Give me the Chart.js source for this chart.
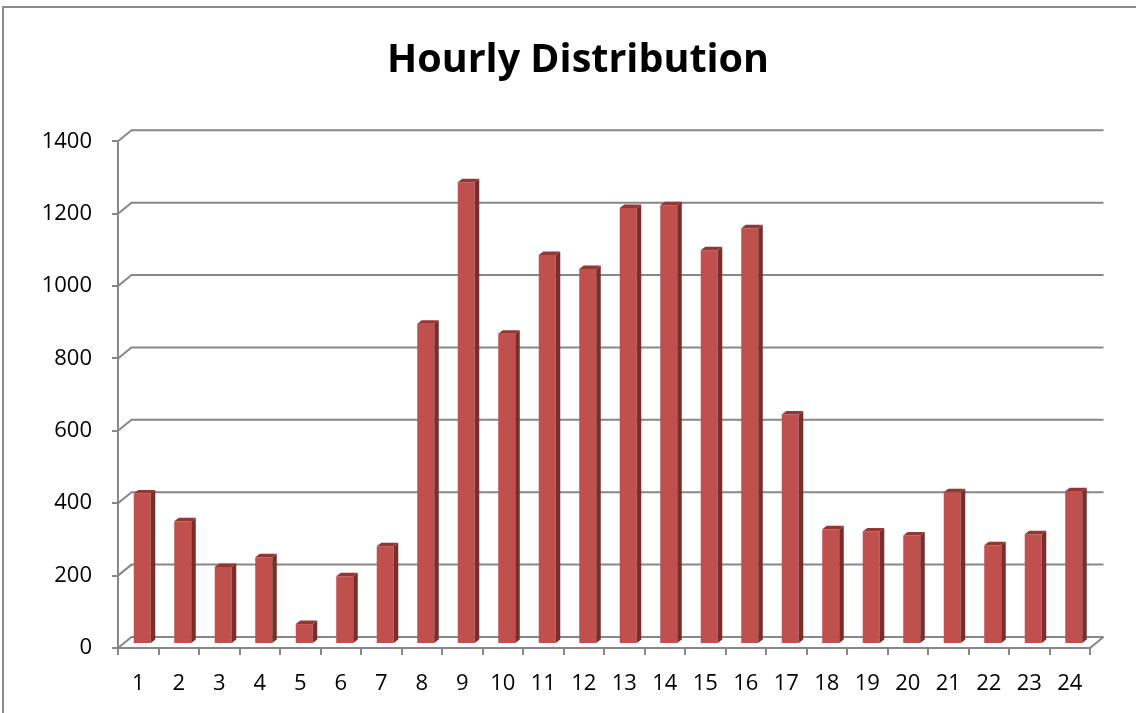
<!DOCTYPE html>
<html>
<head>
<meta charset="utf-8">
<script src="https://cdn.jsdelivr.net/npm/chart.js@4.4.1/dist/chart.umd.min.js"></script>
<style>
  html, body { margin: 0; padding: 0; background: #ffffff; }
  #wrap { width: 1136px; height: 713px; position: relative; }
</style>
</head>
<body>
<div id="wrap"><canvas id="c" width="1136" height="713"></canvas></div>
<script>
// ---- data ----
const chartTitle = 'Hourly Distribution';
const hours = ['1','2','3','4','5','6','7','8','9','10','11','12','13','14','15','16','17','18','19','20','21','22','23','24'];
const counts = [416, 339, 213, 240, 55, 187, 270, 885, 1276, 857, 1075, 1036, 1205, 1212, 1088, 1149, 634, 317, 311, 300, 419, 273, 303, 422];
const yMin = 0;
const yMax = 1400;
const yStep = 200;

// ---- style ----
const GRID = '#878787';
const FACE = '#c0504d';
const SIDE = '#7a2e2c';
const TOP = '#943634';
const BAR_SHIFT = { x: 4, y: -4 };      // bar plane relative to front plane
const BACK_SHIFT = { x: 13.5, y: -11 }; // back wall relative to front plane
const DEPTH = { x: 4.5, y: 3.5 };       // bar depth

const threeD = {
  id: 'threeD',
  beforeDraw(chart) {
    const ctx = chart.ctx;
    ctx.save();
    ctx.fillStyle = '#ffffff';
    ctx.fillRect(0, 0, chart.width, chart.height);
    ctx.strokeStyle = '#8a8a8a';
    ctx.lineWidth = 2;
    ctx.beginPath();
    ctx.moveTo(3, chart.height + 5);
    ctx.lineTo(3, 7);
    ctx.lineTo(chart.width + 5, 7);
    ctx.stroke();
    ctx.restore();
  },
  beforeDatasetsDraw(chart) {
    const ctx = chart.ctx;
    const y = chart.scales.y;
    const a = chart.chartArea;
    ctx.save();
    ctx.strokeStyle = GRID;
    ctx.lineWidth = 2;
    ctx.lineJoin = 'round';
    y.ticks.forEach(t => {
      const py = y.getPixelForValue(t.value);
      ctx.beginPath();
      ctx.moveTo(a.left, py);
      ctx.lineTo(a.left + BACK_SHIFT.x, py + BACK_SHIFT.y);
      ctx.lineTo(a.right + BACK_SHIFT.x, py + BACK_SHIFT.y);
      ctx.stroke();
    });
    // floor right edge
    const p0 = y.getPixelForValue(yMin);
    ctx.beginPath();
    ctx.moveTo(a.right, p0);
    ctx.lineTo(a.right + BACK_SHIFT.x, p0 + BACK_SHIFT.y);
    ctx.stroke();
    ctx.restore();
    ctx.save();
    ctx.translate(BAR_SHIFT.x, BAR_SHIFT.y);
  },
  afterDatasetsDraw(chart) {
    const ctx = chart.ctx;
    const meta = chart.getDatasetMeta(0);
    meta.data.forEach(bar => {
      const p = bar.getProps(['x', 'y', 'base', 'width'], true);
      const l = p.x - p.width / 2, r = p.x + p.width / 2;
      // side
      ctx.fillStyle = SIDE;
      ctx.beginPath();
      ctx.moveTo(r, p.y);
      ctx.lineTo(r + DEPTH.x, p.y - DEPTH.y);
      ctx.lineTo(r + DEPTH.x, p.base - DEPTH.y);
      ctx.lineTo(r, p.base);
      ctx.closePath();
      ctx.fill();
      // top
      ctx.fillStyle = TOP;
      ctx.beginPath();
      ctx.moveTo(l, p.y);
      ctx.lineTo(l + DEPTH.x, p.y - DEPTH.y);
      ctx.lineTo(r + DEPTH.x, p.y - DEPTH.y);
      ctx.lineTo(r, p.y);
      ctx.closePath();
      ctx.fill();
    });
    ctx.restore();
  }
};

new Chart(document.getElementById('c'), {
  type: 'bar',
  data: {
    labels: hours,
    datasets: [{
      data: counts,
      backgroundColor: FACE,
      borderWidth: 0,
      categoryPercentage: 1.0,
      barPercentage: 0.42,
      clip: false,
      yAxisID: 'y'
    }]
  },
  options: {
    responsive: false,
    animation: false,
    devicePixelRatio: 1,
    layout: { padding: { left: 0, right: -20, top: 0, bottom: 0 } },
    plugins: {
      legend: { display: false },
      tooltip: { enabled: false },
      title: {
        display: true,
        text: chartTitle,
        color: '#000000',
        font: { family: "'Open Sans', sans-serif", size: 39.5, weight: 'bold' },
        padding: { top: 37, bottom: 56.9 }
      }
    },
    scales: {
      x: {
        afterFit(scale) { scale.height = 65; },
        grid: { display: true, drawOnChartArea: false, drawTicks: true, tickLength: 7, color: GRID, lineWidth: 2, offset: true },
        border: { display: true, color: GRID, width: 2 },
        ticks: { color: '#000000', padding: 16, font: { family: "'Open Sans', sans-serif", size: 22 }, maxRotation: 0, autoSkip: false }
      },
      y: {
        position: 'left',
        min: yMin,
        max: yMax,
        afterFit(scale) { scale.width = 118; },
        grid: { display: true, drawOnChartArea: false, drawTicks: true, tickLength: 6, color: GRID, lineWidth: 2 },
        border: { display: true, color: GRID, width: 2 },
        ticks: {
          stepSize: yStep,
          color: '#000000',
          padding: 20,
          font: { family: "'Open Sans', sans-serif", size: 22 },
          callback: (v) => String(v)
        }
      },
      yRight: {
        position: 'right',
        min: yMin,
        max: yMax,
        afterFit(scale) { scale.width = 1156 - 1090; },
        grid: { display: false },
        border: { display: false },
        ticks: { display: false }
      }
    }
  },
  plugins: [threeD]
});
</script>
</body>
</html>
